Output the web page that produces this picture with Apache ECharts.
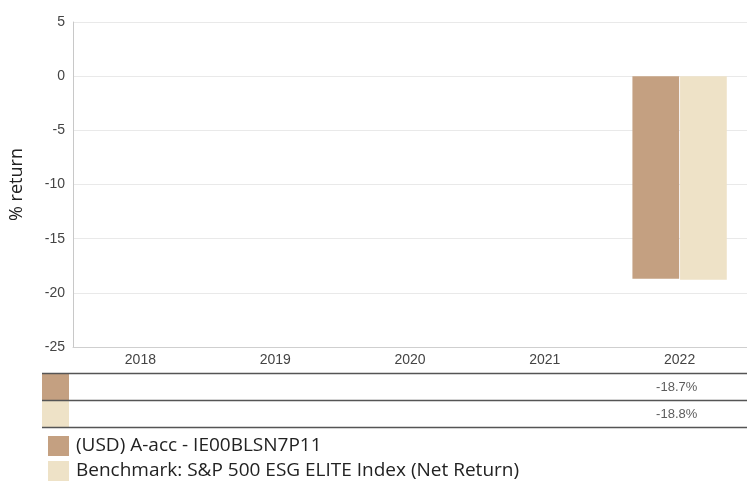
<!DOCTYPE html>
<html>
<head>
<meta charset="utf-8">
<script src="https://cdn.jsdelivr.net/npm/echarts@6/dist/echarts.min.js"></script>
<style>
  html, body { margin: 0; padding: 0; background: #fff; }
  #chart { width: 747px; height: 482px; }
</style>
</head>
<body>
<div id="chart"></div>
<script>
// data
var years = ['2018', '2019', '2020', '2021', '2022'];
var fundName = '(USD) A-acc - IE00BLSN7P11';
var benchName = 'Benchmark: S&P 500 ESG ELITE Index (Net Return)';
var fundValues = [null, null, null, null, -18.7];
var benchValues = [null, null, null, null, -18.8];
var yTicks = { min: -25, max: 5, interval: 5 };

var fundColor = '#c4a081';
var benchColor = '#eee2c7';

var myChart = echarts.init(document.getElementById('chart'));

// table rows: [yearIndex, rowIndex, value]
function tableRow(vals, row) {
  var out = [];
  vals.forEach(function (v, i) {
    if (v !== null) out.push([i, row, v]);
  });
  return out;
}

var font = 'Arial, "Liberation Sans", sans-serif';

option = {
  animation: false,
  grid: [
    { left: 70, right: 0, top: 22, height: 325 },
    { left: 70, right: 0, top: 373, height: 54 }
  ],
  legend: {
    orient: 'vertical',
    left: 48,
    top: 436,
    padding: 0,
    itemWidth: 21,
    itemHeight: 20,
    itemGap: 5,
    icon: 'rect',
    textStyle: { fontFamily: '"Open Sans", "Noto Sans", sans-serif', fontSize: 19, color: '#222', padding: [0, 0, 0, 2] },
    data: [fundName, benchName]
  },
  xAxis: [
    {
      type: 'category',
      gridIndex: 0,
      data: years,
      axisLine: { onZero: false, lineStyle: { color: '#cfcfcf' } },
      axisTick: { show: false },
      axisLabel: { color: '#444', fontSize: 14, fontFamily: font, margin: 6 }
    },
    {
      type: 'category',
      gridIndex: 1,
      data: years,
      show: false
    }
  ],
  yAxis: [
    {
      type: 'value',
      gridIndex: 0,
      min: yTicks.min,
      max: yTicks.max,
      interval: yTicks.interval,
      name: '% return',
      nameLocation: 'middle',
      nameGap: 47,
      nameTextStyle: { color: '#222', fontSize: 18, fontFamily: '"Open Sans", "Noto Sans", sans-serif' },
      axisLine: { show: true, lineStyle: { color: '#c8c8c8' } },
      axisTick: { show: false },
      axisLabel: { color: '#444', fontSize: 14, fontFamily: font, margin: 8 },
      splitLine: { lineStyle: { color: '#e9e9e9' } }
    },
    {
      type: 'category',
      gridIndex: 1,
      inverse: true,
      data: ['fund', 'bench'],
      show: false
    }
  ],
  series: [
    {
      name: fundName,
      type: 'bar',
      data: fundValues,
      itemStyle: { color: fundColor },
      barGap: '2%',
      barCategoryGap: '30%'
    },
    {
      name: benchName,
      type: 'bar',
      data: benchValues,
      itemStyle: { color: benchColor }
    },
    {
      type: 'scatter',
      xAxisIndex: 1,
      yAxisIndex: 1,
      symbolSize: 0,
      silent: true,
      data: tableRow(fundValues, 0).concat(tableRow(benchValues, 1)),
      label: {
        show: true,
        position: 'inside',
        align: 'right',
        offset: [18, 1],
        color: '#333',
        fontSize: 13,
        fontFamily: font,
        formatter: function (p) { return p.value[2].toFixed(1) + '%'; }
      }
    }
  ],
  graphic: [
    { type: 'rect', shape: { x: 42, y: 374, width: 27, height: 26 }, style: { fill: fundColor } },
    { type: 'rect', shape: { x: 42, y: 401, width: 27, height: 26 }, style: { fill: benchColor } },
    { type: 'line', shape: { x1: 42, y1: 373.5, x2: 747, y2: 373.5 }, style: { stroke: '#555', lineWidth: 1.5 } },
    { type: 'line', shape: { x1: 42, y1: 400.5, x2: 747, y2: 400.5 }, style: { stroke: '#555', lineWidth: 1.5 } },
    { type: 'line', shape: { x1: 42, y1: 427.5, x2: 747, y2: 427.5 }, style: { stroke: '#555', lineWidth: 1.5 } }
  ]
};

myChart.setOption(option);
</script>
</body>
</html>
